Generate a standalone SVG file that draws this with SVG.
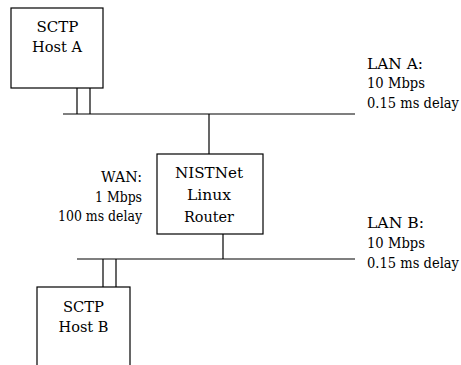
<svg xmlns="http://www.w3.org/2000/svg" width="461" height="365" viewBox="0 0 461 365">
  <style>
    .box { fill: #ffffff; stroke: #000000; stroke-width: 1.2; }
    .wire { fill: none; stroke: #000000; stroke-width: 1.2; }
    .name { font-family: 'DejaVu Serif', serif; font-size: 15px; fill: #000000; text-anchor: middle; }
    .note { font-family: 'DejaVu Serif', serif; font-size: 14.5px; fill: #000000; }
    .right { text-anchor: end; }
  </style>
  <rect width="461" height="365" fill="#ffffff"/>

  <!-- network segments and links -->
  <g id="connectors">
    <line class="wire" x1="63" y1="114" x2="355" y2="114"/>
    <line class="wire" x1="77" y1="88" x2="77" y2="114"/>
    <line class="wire" x1="90" y1="88" x2="90" y2="114"/>
    <line class="wire" x1="209" y1="114" x2="209" y2="154"/>
    <line class="wire" x1="223" y1="234" x2="223" y2="259"/>
    <line class="wire" x1="77" y1="259" x2="355" y2="259"/>
    <line class="wire" x1="103" y1="259" x2="103" y2="287"/>
    <line class="wire" x1="116" y1="259" x2="116" y2="287"/>
  </g>

  <g id="host-a">
    <rect class="box" x="11" y="8" width="92" height="80"/>
    <text class="name" x="57.5" y="32" textLength="42" lengthAdjust="spacingAndGlyphs">SCTP</text>
    <text class="name" x="57" y="52" textLength="50" lengthAdjust="spacingAndGlyphs">Host A</text>
  </g>

  <g id="router">
    <rect class="box" x="157" y="154" width="106" height="80"/>
    <text class="name" x="209" y="178" textLength="68" lengthAdjust="spacingAndGlyphs">NISTNet</text>
    <text class="name" x="209" y="200" textLength="44" lengthAdjust="spacingAndGlyphs">Linux</text>
    <text class="name" x="209" y="222" textLength="50" lengthAdjust="spacingAndGlyphs">Router</text>
  </g>

  <g id="host-b">
    <rect class="box" x="37" y="287" width="93" height="90"/>
    <text class="name" x="83.5" y="312" textLength="41" lengthAdjust="spacingAndGlyphs">SCTP</text>
    <text class="name" x="83.5" y="332" textLength="50" lengthAdjust="spacingAndGlyphs">Host B</text>
  </g>

  <g id="lan-a-label">
    <text class="note" x="367" y="69" textLength="56" lengthAdjust="spacingAndGlyphs">LAN A:</text>
    <text class="note" x="367" y="88" textLength="58" lengthAdjust="spacingAndGlyphs">10 Mbps</text>
    <text class="note" x="367" y="108" textLength="92" lengthAdjust="spacingAndGlyphs">0.15 ms delay</text>
  </g>

  <g id="wan-label">
    <text class="note right" x="142" y="182" textLength="41" lengthAdjust="spacingAndGlyphs">WAN:</text>
    <text class="note right" x="142" y="202" textLength="47" lengthAdjust="spacingAndGlyphs">1 Mbps</text>
    <text class="note right" x="142" y="221" textLength="84" lengthAdjust="spacingAndGlyphs">100 ms delay</text>
  </g>

  <g id="lan-b-label">
    <text class="note" x="367" y="228" textLength="57" lengthAdjust="spacingAndGlyphs">LAN B:</text>
    <text class="note" x="367" y="248" textLength="58" lengthAdjust="spacingAndGlyphs">10 Mbps</text>
    <text class="note" x="367" y="268" textLength="92" lengthAdjust="spacingAndGlyphs">0.15 ms delay</text>
  </g>
</svg>
